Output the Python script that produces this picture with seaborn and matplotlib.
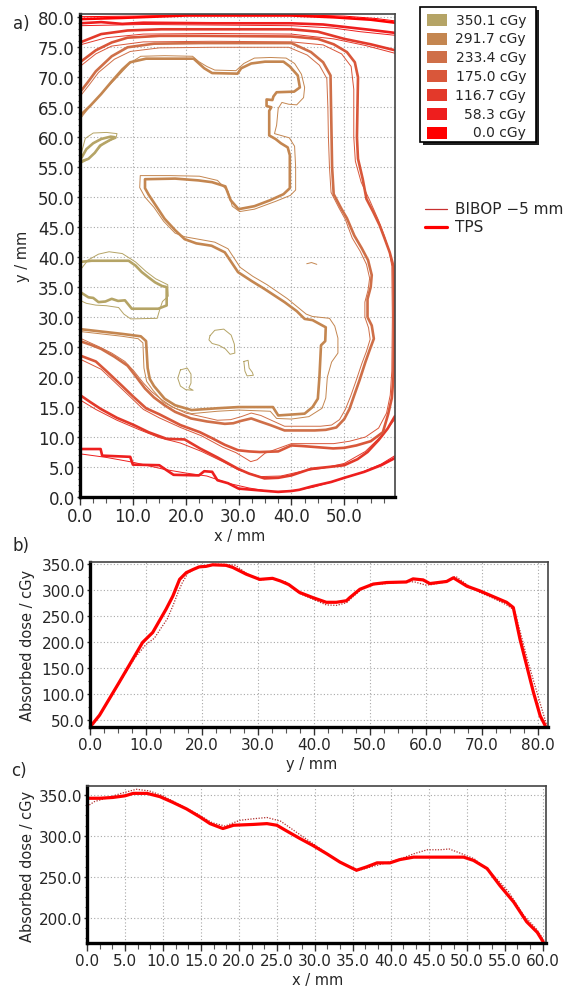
import matplotlib
matplotlib.use("Agg")
import matplotlib.pyplot as plt
import seaborn as sns
import pandas as pd
from matplotlib.ticker import MultipleLocator, FormatStrFormatter
from matplotlib.patches import Rectangle

sns.set_style("white")
plt.rcParams['font.family'] = ['DejaVu Sans']

# ---------------- data: dose levels ----------------
levels = ["350.1 cGy", "291.7 cGy", "233.4 cGy", "175.0 cGy", "116.7 cGy", "58.3 cGy", "0.0 cGy"]
level_colors = ["#B5A466", "#C48650", "#CF6F48", "#D9573A", "#E3392A", "#EE1E1E", "#FF0000"]

# ---------------- panel a: isodose lines (x mm, y mm), TPS and BIBOP ----------------
tps_000 = [(0, 79.7), (8, 79.9), (20, 80.3), (40, 80.3), (48, 80.0), (55, 79.6), (59.6, 79.1)]
bib_000 = [(0, 80.1), (10, 80.2), (25, 80.4), (42, 80.4), (50, 80.2), (56, 79.8), (59.6, 79.4)]

tps_058_top = [(0, 79.0), (4, 79.2), (8, 78.9), (12, 79.1), (25, 79.0), (40, 79.0), (46, 78.8),
               (50, 78.4), (55, 77.9), (59.6, 77.4)]
bib_058_top = [(0, 78.6), (6, 78.7), (12, 78.8), (26, 78.7), (40, 78.6), (48, 78.2), (53, 77.6), (59.6, 77.0)]
tps_058_bot = [(0, 8.0), (3.9, 8.0), (4.2, 6.9), (9.5, 6.7), (10, 5.4), (15, 5.3), (16.5, 4.4), (17.7, 3.7),
               (22.5, 3.6), (23.5, 4.3), (25, 4.2), (26, 2.8), (28, 2.3), (30, 1.4), (34, 1.1), (37.5, 0.85),
               (40, 1.0), (41.5, 1.2), (44, 1.8), (47.5, 2.5), (50, 3.2), (53.8, 4.2), (57, 5.3), (59.6, 6.5)]
bib_058_bot = [(0, 7.2), (5, 6.6), (10, 5.8), (16, 4.6), (20, 4.0), (24, 3.5), (28, 2.3), (32, 1.5), (36, 0.9),
               (40, 1.0), (44, 1.6), (48, 2.6), (53, 4.0), (57, 5.5), (59.6, 6.9)]

tps_117_top = [(0, 75.8), (4, 77.2), (9, 77.8), (15.4, 78.0), (40, 78.0), (45, 77.6), (50, 76.4),
               (55, 75.5), (59.6, 74.5)]
bib_117_top = [(0, 75.4), (5, 76.6), (12, 77.2), (25, 77.3), (40, 77.2), (48, 76.4), (54, 75.3), (59.6, 74.0)]
tps_117_bot = [(0, 17.0), (2, 15.8), (3.9, 14.7), (7, 13.2), (10.2, 12.0), (13, 10.8), (16.4, 9.7),
               (19.8, 9.6), (22.7, 8.1), (26, 6.6), (29.9, 4.7), (32, 3.9), (34.9, 3.1), (37.5, 3.2),
               (40, 3.6), (43.7, 4.7), (47, 5.0), (50, 5.3), (52.5, 6.3), (54.4, 7.5), (56.5, 9.5),
               (58.2, 11.4), (59.6, 13.5)]
bib_117_bot = [(0, 16.2), (3, 14.6), (7, 12.8), (11, 11.3), (15, 9.9), (19, 9.0), (23, 7.6), (27, 5.9),
               (30, 4.5), (34, 3.4), (38, 3.5), (42, 4.3), (46, 4.8), (50, 5.6), (54, 7.6), (57.5, 10.6),
               (59.6, 13.0)]

tps_175 = [(0, 72.5), (3, 74.5), (6, 75.8), (9, 76.6), (15, 76.9), (22.7, 76.9), (40, 76.8), (45, 76.4),
           (48, 75.5), (50.5, 74.2), (52, 72.5), (52.6, 70), (52.5, 65), (52.4, 60), (52.6, 56.4),
           (53.5, 53), (54.2, 49.7), (55.5, 47.5), (56.7, 45.3), (57.6, 43.2), (58.6, 40.8), (59.3, 38.5),
           (59.4, 30), (59.3, 20), (59.0, 16.5), (58.3, 13.8), (57.3, 10.8), (55, 9.3), (52.3, 8.6),
           (50, 8.2), (47.9, 8.1), (45, 8.3), (42, 8.5), (40, 8.6), (37.5, 7.6), (34, 7.5), (32, 7.6),
           (29.9, 7.8), (27.4, 8.7), (25, 9.8), (22.7, 10.8), (19, 12.0), (15, 13.8), (12.5, 14.8),
           (10, 16.8), (8, 18.5), (5, 21.0), (3, 22.6), (0, 23.6)]
bib_175 = [(0, 71.8), (3, 73.9), (6, 75.2), (12, 75.9), (25, 76.0), (40, 75.9), (46, 75.4), (49.5, 73.9),
           (51.3, 71.8), (51.8, 68), (51.8, 60), (52.1, 56), (53.2, 52.5), (54.8, 49.5), (56.4, 46.3),
           (57.6, 43.5), (58.5, 41), (59.0, 38.5), (59.1, 30), (59.0, 21), (58.7, 17), (58.0, 14),
           (56.5, 11.5), (54, 10.0), (51, 9.3), (48, 8.9), (44, 8.9), (40, 8.9), (37.5, 8.1), (35, 7.3),
           (33.5, 6.2), (32.3, 5.9), (31.2, 6.5), (29.5, 7.4), (27, 8.3), (23, 10.2), (19, 11.6),
           (15, 13.2), (12, 14.6), (9.5, 16.7), (7, 18.8), (4, 21.3), (0, 23.0)]

tps_233 = [(0, 67.5), (1.5, 69.2), (3, 71), (6, 73.5), (9, 75.0), (14, 75.6), (22.7, 75.7), (40, 75.7),
           (43.7, 74.2), (46, 72.5), (47.4, 70.3), (47.5, 65), (47.6, 60), (47.7, 55), (48, 50.5),
           (49.5, 48), (50.5, 46.5), (51.9, 43.6), (53.3, 41.5), (54.5, 39.5), (55.2, 37), (55.0, 35),
           (54.4, 33), (54.4, 30), (55.2, 28.6), (55.6, 26.4), (54.8, 24.5), (54.0, 22.5), (52.9, 19.5),
           (51.9, 17), (51, 14.7), (50, 13), (48.5, 11.6), (46.5, 11.2), (44.4, 11.1), (38.7, 11.1),
           (36, 12.0), (34, 12.6), (32.4, 13.1), (30.5, 12.7), (29, 12.3), (27.4, 12.2), (24, 12.6),
           (21, 13.1), (18, 14.2), (16, 15.3), (14, 16.6), (12.3, 18.1), (10.5, 20.2), (9, 21.9),
           (6.5, 23.4), (4, 24.7), (2, 25.4), (0, 26.0)]
bib_233 = [(0, 66.8), (1.8, 68.8), (3.5, 70.8), (6.5, 73.0), (9.5, 74.3), (15, 74.9), (25, 75.0), (39.5, 75.0),
           (43, 73.7), (45.3, 72.0), (46.7, 69.8), (46.9, 65), (47.0, 60), (47.2, 55), (47.5, 50.8),
           (49, 48.2), (50.2, 46.3), (51.5, 43.2), (53, 41), (54.2, 38.8), (54.8, 36.5), (54.5, 34.5),
           (53.9, 32.5), (53.9, 30), (54.6, 28.2), (54.9, 26.3), (54.2, 24.3), (53.3, 22.2), (52.2, 19.3),
           (51.2, 16.8), (50.2, 14.6), (49.1, 12.9), (47.6, 12.0), (45.5, 11.8), (43.5, 11.8), (38.7, 11.8),
           (36.2, 12.8), (34.2, 13.6), (32.4, 14.0), (30.5, 13.4), (28.5, 12.9), (26, 12.8), (23, 13.4),
           (20, 14.0), (17.5, 15.0), (15.5, 16.2), (13.5, 17.6), (12, 19.0), (10.2, 21.0), (8.5, 22.6),
           (6, 24.0), (3.5, 25.1), (0, 26.5)]

tps_292 = [(0, 63.6), (2, 65.3), (4, 67.2), (6, 69.3), (8, 71.3), (9.5, 72.5), (12.5, 73.1), (21.5, 73.1),
           (22.5, 72.3), (23.5, 71.5), (25, 70.7), (29.8, 70.6), (30.5, 71.5), (32.4, 72.3), (35, 72.6),
           (38.5, 72.6), (39.7, 71.8), (41.2, 70.3), (41.6, 68.3), (40.5, 67.6), (37.2, 67.5), (36.6, 66.8),
           (36.4, 66.2), (35.3, 66.3), (35.3, 65.2), (36.2, 65.0), (35.8, 64.4), (35.8, 60.3), (37, 59.7),
           (38, 59.0), (39.3, 58.3), (39.7, 57), (39.7, 51.5), (38.5, 50.5), (36, 49.5), (33, 48.5),
           (30, 48.0), (28.5, 49.5), (27.5, 51.8), (25, 52.5), (22.4, 52.8), (18, 53.1), (12.3, 53.0),
           (12.3, 51.5), (13, 50.4), (14.5, 48.4), (16, 46.4), (18, 44.5), (19.8, 43.0), (22, 42.3),
           (24.9, 41.9), (27.4, 40.8), (29.9, 37.5), (32.5, 36.0), (34.9, 34.7), (38.7, 32.5), (41, 31.0),
           (42.5, 29.7), (44, 29.5), (46.5, 28.3), (46.4, 26.0), (45.6, 25.3), (45.3, 20.0), (45.0, 16.4),
           (44, 15.0), (42.5, 13.9), (37.5, 13.6), (36.5, 15.0), (30, 15.0), (26, 14.8), (21.1, 14.5),
           (18, 15.3), (16, 16.4), (14, 18.5), (13.2, 19.7), (12.8, 21.5), (12.5, 26.0), (11.5, 26.8),
           (8, 27.2), (4, 27.6), (0, 28.0)]
bib_292 = [(0, 63.0), (2, 65.3), (4.5, 67.7), (7, 70.0), (9.5, 72.4), (11.5, 73.5), (16, 73.6), (21.3, 73.5),
           (22.5, 72.6), (24, 71.8), (25.5, 71.2), (29.5, 71.1), (31, 72.3), (33, 73.2), (36, 73.3),
           (39, 73.2), (40.6, 72.3), (41.9, 70.5), (42.5, 68.3), (42.3, 66.6), (41, 65.4), (39.5, 65.5),
           (38.2, 65.8), (37.5, 64.8), (37.2, 62), (36.8, 60.6), (38, 60.3), (39.6, 59.9), (40.6, 58.5),
           (40.8, 55), (40.8, 51.2), (39.8, 50.3), (37, 49.3), (33, 48.0), (30.2, 47.6), (28.8, 48.5),
           (28, 51.0), (26, 52.8), (22.6, 53.5), (17, 53.6), (11.4, 53.6), (11.3, 51.6), (12.3, 50.0),
           (14, 48.3), (15.8, 46.0), (18, 44.0), (19.8, 43.4), (23, 42.9), (25.5, 42.5), (28, 41.4),
           (30.3, 38.3), (32.7, 36.8), (35.4, 35.4), (39.2, 33.1), (42.8, 30.5), (44, 30.1), (47.2, 29.8),
           (48.2, 28.5), (48.8, 26.5), (48.8, 24.0), (47.6, 22.5), (46.8, 20.0), (46.5, 16.5), (45.8, 14.8),
           (43.3, 13.4), (40, 13.0), (37.2, 13.1), (36, 14.3), (30, 14.5), (26, 14.3), (21.1, 13.9),
           (18, 14.8), (15.8, 15.8), (13.8, 17.8), (12.6, 19.3), (12.1, 21.5), (11.9, 25.7), (11, 26.4),
           (8, 26.8), (4, 27.2), (0, 27.6)]
bib_292_mark = [(42.9, 38.9), (43.8, 39.1), (44.8, 38.8)]

tps_350_a = [(0.3, 56.6), (1.2, 58.0), (2.5, 59.0), (4.0, 59.7), (5.8, 60.1), (6.6, 60.0), (5.2, 59.3),
             (3.8, 58.6), (2.8, 57.4), (1.6, 56.4), (0.3, 56.0)]
bib_350_a = [(0.3, 57.5), (1.0, 59.8), (2.5, 60.7), (5.0, 60.8), (7.0, 60.6), (6.8, 59.8), (4.6, 59.1),
             (3.2, 57.8), (1.5, 56.3), (0.3, 55.7)]
tps_350_b = [(0, 39.2), (2.2, 39.4), (9.2, 39.4), (10.5, 38.6), (11.7, 37.5), (13, 36.6), (14.2, 35.8),
             (15.5, 35.2), (16.4, 35.0), (16.4, 31.95), (14.8, 31.4), (9.8, 31.4), (8.5, 32.8), (7.2, 32.7),
             (6, 33.05), (4.8, 32.6), (3.5, 32.5), (2.5, 33.2), (1.6, 33.3), (0, 34.2)]
bib_350_b = [(0, 37.8), (1.5, 39.5), (3.5, 40.5), (5.5, 40.9), (8, 40.6), (10.5, 39.2), (12.5, 37.6),
             (14.3, 36.4), (16.6, 35.4), (16.7, 33.5), (15.6, 32.6), (15.1, 31.3), (14.6, 29.8), (9.6, 29.7),
             (8.3, 30.5), (7.3, 31.6), (5, 31.9), (3, 32.0), (1.2, 32.3), (0, 32.8)]
bib_350_c = [(24.6, 26.9), (25.5, 27.8), (27.2, 28.0), (28.6, 27.0), (29.2, 25.5), (29.3, 24.0), (28.4, 23.8),
             (27.5, 24.7), (26.3, 25.3), (25.0, 25.6), (24.4, 26.2), (24.6, 26.9)]
bib_350_d = [(19.0, 21.2), (20.3, 21.5), (21.0, 20.5), (21.0, 19.0), (20.6, 18.2), (21.4, 17.8), (20.0, 17.9),
             (19.0, 18.5), (18.5, 19.8), (19.0, 21.2)]
bib_350_e = [(31.0, 22.6), (31.8, 22.8), (32.0, 21.5), (32.6, 20.8), (32.8, 20.3), (31.6, 20.2), (31.2, 21.0),
             (31.0, 22.6)]

# ---------------- panel b: depth profile along y ----------------
b_y_tps = [0.2, 1.7, 5.2, 9.4, 11.2, 13.6, 14.8, 16.0, 17.2, 18.4, 19.5, 20.7, 21.9, 24.3, 25.5, 27.9, 30.3,
           32.6, 34.0, 35.5, 37.4, 39.8, 42.2, 44.0, 45.8, 46.4, 48.2, 50.6, 53.0, 56.5, 57.7, 59.5, 60.7,
           63.7, 64.9, 67.3, 69.6, 72.0, 74.4, 75.6, 76.8, 78.0, 79.2, 80.4, 81.3]
b_d_tps = [40, 60, 123, 200, 219, 264, 289, 321, 334, 340, 345, 346, 349, 348, 344, 331, 321, 323, 318, 311,
           296, 286, 277, 277, 280, 286, 302, 312, 315, 316, 322, 320, 313, 317, 324, 308, 299, 288, 277, 267,
           206, 155, 104, 59, 40]
b_y_bib = [0.3, 2, 5, 8, 10, 11.5, 12.6, 13.8, 14.8, 15.8, 16.5, 17.5, 19, 20.5, 22, 24, 26, 28, 30.3, 32.6,
           35, 37.4, 40, 42.2, 44, 45.8, 47, 48.5, 50.6, 53, 56.5, 58, 60, 61, 63.5, 65.3, 67.3, 69.6, 72,
           74.4, 75.8, 77, 78.2, 79.5, 80.7, 81.6]
b_d_bib = [38, 64, 118, 170, 196, 208, 226, 245, 270, 298, 315, 333, 343, 347, 350, 350, 348, 332, 320, 322,
           316, 294, 282, 272, 271, 276, 288, 302, 311, 313, 317, 316, 310, 311, 316, 327, 311, 296, 285, 272,
           262, 214, 164, 116, 72, 40]

# ---------------- panel c: lateral profile along x ----------------
c_x_tps = [0.0, 1.7, 3.4, 5.0, 6.1, 7.9, 9.6, 11.3, 13.1, 14.9, 16.2, 17.9, 19.3, 21.9, 23.7, 25.0, 26.3,
           28.0, 29.8, 31.6, 33.3, 34.6, 35.5, 36.8, 38.2, 39.9, 41.2, 43.0, 45.2, 49.6, 50.9, 52.7, 54.4,
           56.2, 57.9, 59.3, 60.1]
c_d_tps = [346, 346, 347, 349, 352, 352, 348, 341, 333, 323, 315, 309, 313, 314, 315, 313, 306, 297, 288, 278,
           268, 262, 258, 262, 267, 267, 271, 274, 274, 274, 270, 260, 239, 219, 195, 182, 170]
c_x_bib = [0.0, 1.0, 2.5, 4.5, 6.5, 8.2, 10, 12, 14.5, 16.5, 18.2, 20.1, 22, 23.7, 25.5, 27.5, 30, 32, 34,
           35.5, 37, 39, 41, 43, 44.8, 46.5, 47.7, 49.4, 51, 53.5, 55.5, 57.5, 59.2, 60.2]
c_d_bib = [336, 342, 346, 352, 357, 355, 349, 339, 327, 316, 312, 319, 321, 322.5, 318, 305, 289, 276, 264,
           257, 261, 266, 271, 278, 283, 283, 284, 278, 272, 252, 232, 203, 186, 172]

# ---------------- layout helpers ----------------
W, H = 566, 987
def fx(px): return px / W
def fy(py): return 1 - py / H
def box(l, t, r, b): return [fx(l), fy(b), (r - l) / W, (b - t) / H]

fig = plt.figure(figsize=(W / 100, H / 100), dpi=100)
fig.patch.set_facecolor("white")

GRID = dict(color="#A8A8A8", linestyle=(0, (1, 2)), linewidth=0.8)

def style_axes(ax, xmaj, xmin, ymaj, ymin, fs):
    ax.set_facecolor("white")
    ax.xaxis.set_major_locator(MultipleLocator(xmaj))
    ax.xaxis.set_minor_locator(MultipleLocator(xmin))
    ax.yaxis.set_major_locator(MultipleLocator(ymaj))
    ax.yaxis.set_minor_locator(MultipleLocator(ymin))
    ax.xaxis.set_major_formatter(FormatStrFormatter("%.1f"))
    ax.yaxis.set_major_formatter(FormatStrFormatter("%.1f"))
    ax.grid(True, which="major", **GRID)
    ax.set_axisbelow(True)
    ax.tick_params(axis="x", which="major", direction="out", length=5.5, width=1, color="#333333",
                   labelsize=fs, pad=2, bottom=True)
    ax.tick_params(axis="x", which="minor", direction="out", length=4, width=0.8, color="#555555",
                   bottom=True)
    ax.tick_params(axis="y", which="major", direction="out", length=2.5, width=1, color="#333333",
                   labelsize=fs, pad=1.2, left=True)
    ax.tick_params(axis="y", which="minor", direction="out", length=1.8, width=0.8, color="#555555",
                   left=True)
    for s in ["left", "bottom"]:
        ax.spines[s].set_linewidth(2.4)
        ax.spines[s].set_color("black")
    for s in ["top", "right"]:
        ax.spines[s].set_linewidth(1.2)
        ax.spines[s].set_color("#444444")
    ax.set_xlabel("")
    ax.set_ylabel("")

def draw_line(ax, pts, color, lw, ls="-"):
    df = pd.DataFrame(pts, columns=["x", "y"])
    sns.lineplot(data=df, x="x", y="y", sort=False, estimator=None, color=color,
                 linewidth=lw, linestyle=ls, ax=ax, legend=False)

# ---------------- panel a ----------------
axA = fig.add_axes(box(80, 15, 395, 498))
col = dict(zip(levels, level_colors))
TPS_LW, BIB_LW = 1.9, 0.7
pairs = [
    ("0.0 cGy", tps_000, bib_000),
    ("58.3 cGy", tps_058_top, bib_058_top),
    ("58.3 cGy", tps_058_bot, bib_058_bot),
    ("116.7 cGy", tps_117_top, bib_117_top),
    ("116.7 cGy", tps_117_bot, bib_117_bot),
    ("175.0 cGy", tps_175, bib_175),
    ("233.4 cGy", tps_233, bib_233),
    ("291.7 cGy", tps_292, bib_292),
    ("350.1 cGy", tps_350_a, bib_350_a),
    ("350.1 cGy", tps_350_b, bib_350_b),
]
for lev, tps, bib in pairs:
    draw_line(axA, bib, col[lev], BIB_LW)
    draw_line(axA, tps, col[lev], TPS_LW)
for pts in [bib_350_c, bib_350_d, bib_350_e]:
    draw_line(axA, pts, col["350.1 cGy"], BIB_LW)
draw_line(axA, bib_292_mark, col["291.7 cGy"], BIB_LW)

axA.set_xlim(0, 59.6)
axA.set_ylim(0, 80.55)
style_axes(axA, 10, 2.5, 5, 1, 12)

# ---------------- panel b ----------------
axB = fig.add_axes(box(90, 563, 548, 728))
sns.lineplot(x=b_y_bib, y=b_d_bib, sort=False, estimator=None, color="#B0302E",
             linewidth=0.9, linestyle=(0, (1, 1.2)), ax=axB)
sns.lineplot(x=b_y_tps, y=b_d_tps, sort=False, estimator=None, color="#FF0000",
             linewidth=2.3, ax=axB)
axB.set_xlim(0, 81.8)
axB.set_ylim(37.4, 354.4)
style_axes(axB, 10, 2.5, 50, 25, 11)

# ---------------- panel c ----------------
axC = fig.add_axes(box(87, 787, 546, 944))
sns.lineplot(x=c_x_bib, y=c_d_bib, sort=False, estimator=None, color="#B0302E",
             linewidth=0.9, linestyle=(0, (1, 1.2)), ax=axC)
sns.lineplot(x=c_x_tps, y=c_d_tps, sort=False, estimator=None, color="#FF0000",
             linewidth=2.3, ax=axC)
axC.set_xlim(0, 60.45)
axC.set_ylim(169, 361)
style_axes(axC, 5, 5 / 3, 50, 12.5, 11)

# ---------------- texts ----------------
LBL = 10.5
fig.text(fx(21), fy(24), "a)", fontsize=12, ha="center", va="center")
fig.text(fx(21), fy(546), "b)", fontsize=12, ha="center", va="center")
fig.text(fx(19), fy(771), "c)", fontsize=12, ha="center", va="center")
fig.text(fx(240), fy(536), "x / mm", fontsize=LBL, ha="center", va="center")
fig.text(fx(22), fy(256), "y / mm", fontsize=LBL, ha="center", va="center", rotation=90)
fig.text(fx(312), fy(765), "y / mm", fontsize=LBL, ha="center", va="center")
fig.text(fx(28), fy(645), "Absorbed dose / cGy", fontsize=LBL, ha="center", va="center", rotation=90)
fig.text(fx(318), fy(981), "x / mm", fontsize=LBL, ha="center", va="center")
fig.text(fx(28), fy(866), "Absorbed dose / cGy", fontsize=LBL, ha="center", va="center", rotation=90)

# ---------------- legend of isodose levels (boxed, with shadow) ----------------
axL = fig.add_axes([0, 0, 1, 1], zorder=5)
axL.set_xlim(0, W)
axL.set_ylim(H, 0)
axL.axis("off")
axL.add_patch(Rectangle((423, 11), 116, 135, facecolor="#202020", edgecolor="none"))
axL.add_patch(Rectangle((420, 8), 116, 135, facecolor="white", edgecolor="black", linewidth=1.2))
row_y = [20.7, 39.5, 58.3, 77.1, 95.9, 114.7, 133.5]
for lab, c, yy in zip(levels, level_colors, row_y):
    axL.add_patch(Rectangle((427, yy - 6), 19.5, 12, facecolor=c, edgecolor="none"))
    axL.text(526, yy, lab, fontsize=10, ha="right", va="center")

# line-type legend
axL.plot([425, 447], [210, 210], color="#C83030", linewidth=0.9)
axL.plot([425, 447], [228, 228], color="#FF0000", linewidth=2.3)
axL.text(455, 210, "BIBOP \u22125 mm", fontsize=11, ha="left", va="center")
axL.text(455, 228, "TPS", fontsize=11, ha="left", va="center")

fig.savefig("out.png", dpi=100, facecolor="white")
